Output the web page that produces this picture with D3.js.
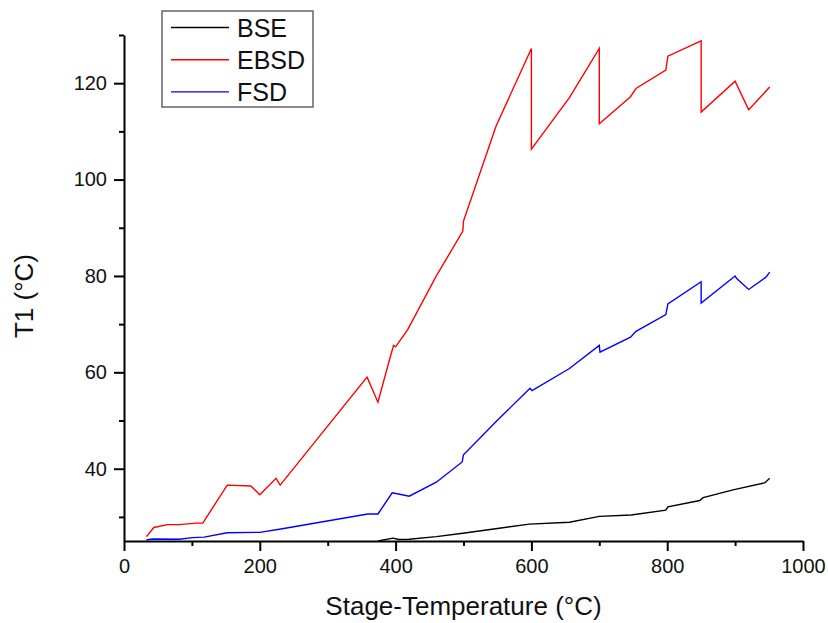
<!DOCTYPE html>
<html>
<head>
<meta charset="utf-8">
<script src="https://d3js.org/d3.v7.min.js"></script>
<style>
  body { margin: 0; background: #fff; }
  text { font-family: "Liberation Sans", Arial, sans-serif; }
</style>
</head>
<body>
<svg id="plot1" width="828" height="623"></svg>
<script>

// data
var bseX = [374, 396, 405, 420, 460, 499, 550, 597, 656, 700, 747, 798, 801, 848, 853, 897, 944, 951];
var bseY = [25.0, 25.6, 25.3, 25.35, 25.9, 26.6, 27.6, 28.5, 28.9, 30.1, 30.4, 31.4, 32.1, 33.4, 34.0, 35.6, 37.1, 38.0];

var ebsdX = [33, 44, 64, 81, 106, 116, 152, 187, 200, 224, 230, 358, 374, 391, 397, 400, 418, 460, 499, 500,
             548, 600, 600, 656, 700, 700, 746, 754, 798, 801, 850, 850, 900, 920, 951];
var ebsdY = [25.9, 27.8, 28.4, 28.4, 28.7, 28.7, 36.6, 36.4, 34.6, 38.0, 36.6, 59.0, 53.8, 62.6, 65.6, 65.3, 68.9, 80.0, 89.3, 91.4,
             111.1, 127.2, 106.3, 117.0, 127.2, 111.6, 117.2, 118.9, 122.7, 125.6, 128.8, 114.0, 120.4, 114.5, 119.2];

var fsdX = [33, 42, 81, 101, 118, 152, 200, 231, 359, 374, 395, 406, 420, 460, 498, 500, 551, 598, 601, 656,
            700, 701, 746, 754, 798, 801, 850, 850, 900, 902, 920, 945, 951];
var fsdY = [25.2, 25.4, 25.35, 25.7, 25.8, 26.7, 26.8, 27.5, 30.6, 30.6, 35.0, 34.7, 34.3, 37.2, 41.4, 42.9, 50.2, 56.7, 56.2, 60.8,
            65.6, 64.2, 67.3, 68.5, 72.0, 74.2, 78.8, 74.4, 80.0, 79.5, 77.2, 79.7, 80.8];

var seriesNames = ["BSE", "EBSD", "FSD"];
var seriesColors = ["#000000", "#ff0000", "#0000ff"];
var xTicks = [0, 200, 400, 600, 800, 1000];
var yTicks = [40, 60, 80, 100, 120];

var svg = d3.select("#plot1"),
    margin = {top: 35, right: 25, bottom: 82, left: 124},
    width = +svg.attr("width") - margin.left - margin.right,
    height = +svg.attr("height") - margin.top - margin.bottom,
    g = svg.append("g").attr("transform", "translate(" + margin.left + "," + margin.top + ")");

var x = d3.scaleLinear().domain([0, 1000]).range([0, width]);
var y = d3.scaleLinear().domain([25, 130]).range([height, 0]);

// minor ticks first, then the major axis on top
g.append("g")
    .attr("transform", "translate(0," + height + ")")
    .call(d3.axisBottom(x).tickValues(d3.range(100, 1000, 200)).tickSize(5).tickFormat(""))
    .call(function(a) { a.select(".domain").remove(); });

g.append("g")
    .call(d3.axisLeft(y).tickValues(d3.range(30, 131, 20)).tickSize(5).tickFormat(""))
    .call(function(a) { a.select(".domain").remove(); });

var xAxis = g.append("g")
    .attr("transform", "translate(0," + height + ")")
    .call(d3.axisBottom(x).tickValues(xTicks).tickFormat(d3.format("d"))
        .tickSize(10).tickSizeOuter(0).tickPadding(8));

var yAxis = g.append("g")
    .call(d3.axisLeft(y).tickValues(yTicks).tickFormat(d3.format("d"))
        .tickSize(10).tickSizeOuter(0).tickPadding(7));

svg.selectAll(".tick line").attr("stroke-width", 2);
svg.selectAll(".domain").attr("stroke-width", 2);
svg.selectAll(".tick text").attr("font-size", 20).attr("fill", "#111")
    .attr("font-family", "Liberation Sans, Arial, sans-serif");

// axis titles
svg.append("text")
    .attr("x", margin.left + width / 2)
    .attr("y", 615)
    .attr("text-anchor", "middle")
    .attr("font-size", 26)
    .attr("fill", "#111")
    .text("Stage-Temperature (°C)");

svg.append("text")
    .attr("transform", "translate(33,296) rotate(-90)")
    .attr("text-anchor", "middle")
    .attr("font-size", 26)
    .attr("fill", "#111")
    .text("T1 (°C)");

// lines
var line = d3.line()
    .x(function(d) { return x(d[0]); })
    .y(function(d) { return y(d[1]); });

var allData = [d3.zip(bseX, bseY), d3.zip(ebsdX, ebsdY), d3.zip(fsdX, fsdY)];

g.selectAll(".series")
    .data(allData)
    .enter().append("path")
    .attr("class", "series")
    .attr("fill", "none")
    .attr("stroke", function(d, i) { return seriesColors[i]; })
    .attr("stroke-width", 1.4)
    .attr("stroke-linejoin", "miter")
    .attr("d", line);

// legend
var legend = svg.append("g").attr("transform", "translate(162,11)");

legend.append("rect")
    .attr("width", 151)
    .attr("height", 96)
    .attr("fill", "#fff")
    .attr("stroke", "#666")
    .attr("stroke-width", 1.5);

var items = legend.selectAll(".item")
    .data(seriesNames)
    .enter().append("g")
    .attr("class", "item")
    .attr("transform", function(d, i) { return "translate(0," + (16.5 + i * 32.2) + ")"; });

items.append("line")
    .attr("x1", 9).attr("x2", 67)
    .attr("stroke", function(d, i) { return seriesColors[i]; })
    .attr("stroke-width", 1.4);

items.append("text")
    .attr("x", 75)
    .attr("y", 9)
    .attr("font-size", 25)
    .attr("fill", "#111")
    .text(function(d) { return d; });

</script>
</body>
</html>
